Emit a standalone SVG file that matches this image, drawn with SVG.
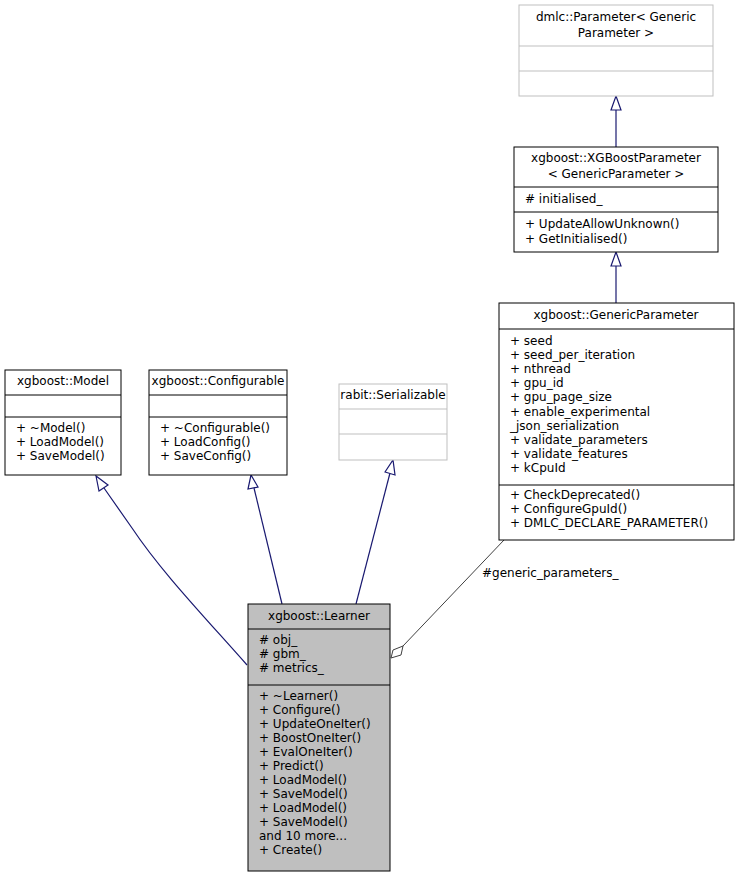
<svg xmlns="http://www.w3.org/2000/svg" width="739" height="877" viewBox="0 0 739 877">
<style>
text{font-family:"DejaVu Sans",sans-serif;font-size:12px;fill:#000}
.c{text-anchor:middle}
.b{fill:#fff;stroke:#000;stroke-width:1}
.g{fill:#fff;stroke:#bfbfbf;stroke-width:1}
.l{stroke:#000;stroke-width:1}
.lg{stroke:#bfbfbf;stroke-width:1}
.e{fill:none;stroke:#191970;stroke-width:1.2}
.ah{fill:#fff;stroke:#191970;stroke-width:1.2}
</style>
<rect width="739" height="877" fill="#fff"/>
<g id="edges">
<path class="e" d="M616,147 V108"/><polygon class="ah" points="611,110 616,96 621,110"/>
<path class="e" d="M616,303 V264"/><polygon class="ah" points="611,266 616,252 621,266"/>
<path class="e" d="M247,665 C200,612 160,570 132,528 L104,488"/><polygon class="ah" points="99,491 96,476 108,485"/>
<path class="e" d="M282,604 L254,488"/><polygon class="ah" points="248,489 251,475 258,487"/>
<path class="e" d="M356,604 L390,473"/><polygon class="ah" points="385,472 393,460 395,475"/>
<path fill="none" stroke="#404040" d="M504,540 L403,646"/><polygon fill="#fff" stroke="#404040" points="391,658 393,650 403,646 401,655"/>
<text x="482" y="577">#generic_parameters_</text>
</g>
<g id="dmlc_Parameter">
<rect class="g" x="519" y="5" width="194" height="91"/>
<line class="lg" x1="519" y1="46" x2="713" y2="46"/><line class="lg" x1="519" y1="71" x2="713" y2="71"/>
<text class="c" x="616" y="21">dmlc::Parameter&lt; Generic</text>
<text class="c" x="616" y="37">Parameter &gt;</text>
</g>
<g id="XGBoostParameter">
<rect class="b" x="514" y="147" width="204" height="105"/>
<line class="l" x1="514" y1="187" x2="718" y2="187"/><line class="l" x1="514" y1="212" x2="718" y2="212"/>
<text class="c" x="616" y="162">xgboost::XGBoostParameter</text>
<text class="c" x="616" y="178">&lt; GenericParameter &gt;</text>
<text x="525" y="203"># initialised_</text>
<text x="525" y="228">+ UpdateAllowUnknown()</text>
<text x="525" y="243">+ GetInitialised()</text>
</g>
<g id="GenericParameter">
<rect class="b" x="499" y="303" width="235" height="237"/>
<line class="l" x1="499" y1="329" x2="734" y2="329"/><line class="l" x1="499" y1="485" x2="734" y2="485"/>
<text class="c" x="616" y="319">xgboost::GenericParameter</text>
<text x="510" y="345">+ seed</text>
<text x="510" y="359">+ seed_per_iteration</text>
<text x="510" y="373">+ nthread</text>
<text x="510" y="387">+ gpu_id</text>
<text x="510" y="401">+ gpu_page_size</text>
<text x="510" y="416">+ enable_experimental</text>
<text x="510" y="430">_json_serialization</text>
<text x="510" y="444">+ validate_parameters</text>
<text x="510" y="458">+ validate_features</text>
<text x="510" y="472">+ kCpuId</text>
<text x="510" y="499">+ CheckDeprecated()</text>
<text x="510" y="513">+ ConfigureGpuId()</text>
<text x="510" y="527">+ DMLC_DECLARE_PARAMETER()</text>
</g>
<g id="Model">
<rect class="b" x="5" y="370" width="116" height="105"/>
<line class="l" x1="5" y1="395" x2="121" y2="395"/><line class="l" x1="5" y1="417" x2="121" y2="417"/>
<text class="c" x="63" y="385">xgboost::Model</text>
<text x="16" y="432">+ ~Model()</text>
<text x="16" y="446">+ LoadModel()</text>
<text x="16" y="460">+ SaveModel()</text>
</g>
<g id="Configurable">
<rect class="b" x="149" y="370" width="138" height="105"/>
<line class="l" x1="149" y1="395" x2="287" y2="395"/><line class="l" x1="149" y1="417" x2="287" y2="417"/>
<text class="c" x="218" y="385">xgboost::Configurable</text>
<text x="160" y="432">+ ~Configurable()</text>
<text x="160" y="446">+ LoadConfig()</text>
<text x="160" y="460">+ SaveConfig()</text>
</g>
<g id="Serializable">
<rect class="g" x="339" y="384" width="108" height="76"/>
<line class="lg" x1="339" y1="409" x2="447" y2="409"/><line class="lg" x1="339" y1="434" x2="447" y2="434"/>
<text class="c" x="393" y="399">rabit::Serializable</text>
</g>
<g id="Learner">
<rect fill="#bfbfbf" stroke="#000" x="248" y="604" width="142" height="267"/>
<line class="l" x1="248" y1="629" x2="390" y2="629"/><line class="l" x1="248" y1="685" x2="390" y2="685"/>
<text class="c" x="319" y="620">xgboost::Learner</text>
<text x="259" y="644"># obj_</text>
<text x="259" y="658"># gbm_</text>
<text x="259" y="672"># metrics_</text>
<text x="259" y="700">+ ~Learner()</text>
<text x="259" y="714">+ Configure()</text>
<text x="259" y="728">+ UpdateOneIter()</text>
<text x="259" y="742">+ BoostOneIter()</text>
<text x="259" y="756">+ EvalOneIter()</text>
<text x="259" y="770">+ Predict()</text>
<text x="259" y="784">+ LoadModel()</text>
<text x="259" y="798">+ SaveModel()</text>
<text x="259" y="812">+ LoadModel()</text>
<text x="259" y="826">+ SaveModel()</text>
<text x="259" y="840">and 10 more...</text>
<text x="259" y="854">+ Create()</text>
</g>
</svg>
